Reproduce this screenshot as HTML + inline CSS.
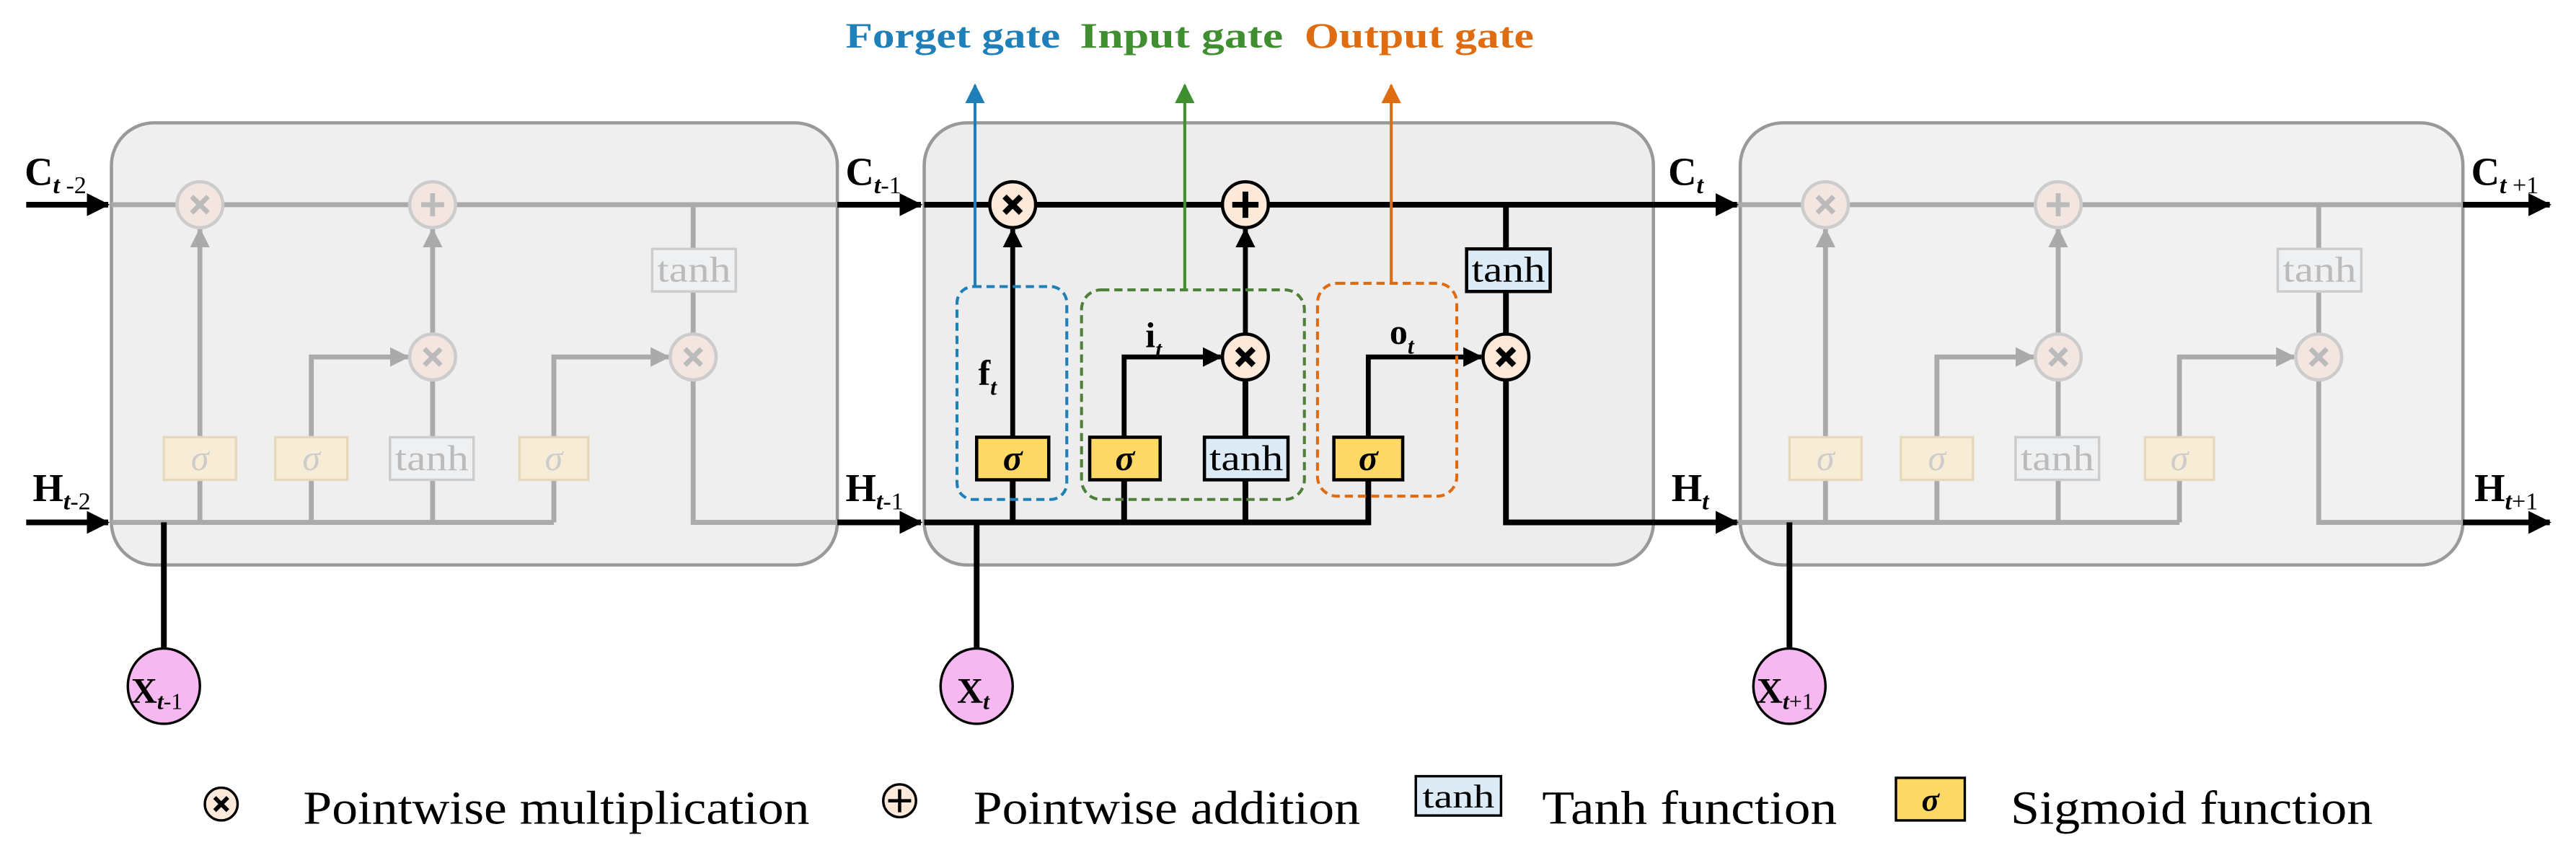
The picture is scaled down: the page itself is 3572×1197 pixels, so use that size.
<!DOCTYPE html>
<html><head><meta charset="utf-8"><style>
html,body{margin:0;padding:0;background:#fff;}
svg{display:block;}
text{font-family:"Liberation Serif","Times New Roman",serif;}
</style></head><body>
<svg width="3572" height="1197" viewBox="0 0 1572 527" preserveAspectRatio="none" xmlns="http://www.w3.org/2000/svg">
<defs>
<marker id="abig" markerWidth="14" markerHeight="14" refX="13" refY="7" orient="auto" markerUnits="userSpaceOnUse"><path d="M0,0 L14,7 L0,14z" fill="#000"/></marker>
<marker id="ag" markerWidth="12" markerHeight="12" refX="11" refY="6" orient="auto" markerUnits="userSpaceOnUse"><path d="M0,0 L12,6 L0,12z" fill="#aaa"/></marker>
<marker id="ak" markerWidth="12" markerHeight="12" refX="11" refY="6" orient="auto" markerUnits="userSpaceOnUse"><path d="M0,0 L12,6 L0,12z" fill="#000"/></marker>
<marker id="abl" markerWidth="12" markerHeight="12" refX="11" refY="6" orient="auto" markerUnits="userSpaceOnUse"><path d="M0,0 L12,6 L0,12z" fill="#1f7fb8"/></marker>
<marker id="agr" markerWidth="12" markerHeight="12" refX="11" refY="6" orient="auto" markerUnits="userSpaceOnUse"><path d="M0,0 L12,6 L0,12z" fill="#3f8f30"/></marker>
<marker id="aor" markerWidth="12" markerHeight="12" refX="11" refY="6" orient="auto" markerUnits="userSpaceOnUse"><path d="M0,0 L12,6 L0,12z" fill="#e06c12"/></marker>
<g id="faded">
  <path d="M0,125 H443 M0,319 H270 M54,319 V293 M122,319 V293 M196,319 V293 M270,319 V293 M355,125 V152 M355,178 V204 M355,232 V319 H443" fill="none" stroke="#aaa" stroke-width="3"/>
  <path d="M54,267 V140" stroke="#aaa" stroke-width="3" marker-end="url(#ag)"/>
  <path d="M196,267 V232 M196,204 V140" stroke="#aaa" stroke-width="3" marker-end="url(#ag)"/>
  <path d="M122,267 V218 H181" fill="none" stroke="#aaa" stroke-width="3" marker-end="url(#ag)"/>
  <path d="M270,267 V218 H340" fill="none" stroke="#aaa" stroke-width="3" marker-end="url(#ag)"/>
  <g fill="#f3e6e0" stroke="#ccc" stroke-width="2">
    <circle cx="54" cy="125" r="14"/><circle cx="196" cy="125" r="14"/><circle cx="196" cy="218" r="14"/><circle cx="355" cy="218" r="14"/>
  </g>
  <g stroke="#bbb" stroke-width="3">
    <path d="M49,120 l10,10 M59,120 l-10,10 M191,213 l10,10 M201,213 l-10,10 M350,213 l10,10 M360,213 l-10,10 M196,118 v14 M189,125 h14"/>
  </g>
  <rect x="330" y="152" width="51" height="26" fill="#eef0f2" stroke="#ccc" stroke-width="1.5"/>
  <text x="333" y="172" font-size="22" fill="#bbb" textLength="45" lengthAdjust="spacingAndGlyphs">tanh</text>
  <g fill="#f7ecd6" stroke="#e6d8bb" stroke-width="1.5">
    <rect x="32" y="267" width="44" height="26"/><rect x="100" y="267" width="44" height="26"/><rect x="249" y="267" width="42" height="26"/>
  </g>
  <rect x="170" y="267" width="51" height="26" fill="#eef0f2" stroke="#ccc" stroke-width="1.5"/>
  <g font-size="22" font-style="italic" fill="#ccc" text-anchor="middle">
    <text x="54" y="287">σ</text><text x="122" y="287">σ</text><text x="270" y="287">σ</text>
  </g>
  <text x="173" y="287" font-size="22" fill="#bbb" textLength="45" lengthAdjust="spacingAndGlyphs">tanh</text>
</g>
</defs>

<rect x="68" y="75" width="443" height="270" rx="26" fill="#efefef" stroke="#999" stroke-width="2"/>
<rect x="564" y="75" width="445" height="270" rx="26" fill="#ededed" stroke="#999" stroke-width="2"/>
<rect x="1062" y="75" width="441" height="270" rx="26" fill="#f1f1f1" stroke="#999" stroke-width="2"/>

<use href="#faded" x="68" y="0"/>
<use href="#faded" x="1060" y="0"/>

<g stroke="#000" stroke-width="3.5" fill="none">
  <path d="M16,125 H66" marker-end="url(#abig)"/>
  <path d="M16,319 H66" marker-end="url(#abig)"/>
  <path d="M511,125 H562" marker-end="url(#abig)"/>
  <path d="M511,319 H562" marker-end="url(#abig)"/>
  <path d="M1503,125 H1556" marker-end="url(#abig)"/>
  <path d="M1503,319 H1556" marker-end="url(#abig)"/>
  <path d="M1009,125 H1060" marker-end="url(#abig)"/>
  <path d="M1009,319 H1060" marker-end="url(#abig)"/>
  <path d="M100,319 V397 M596,319 V397 M1092,319 V397"/>
</g>

<g stroke="#000" stroke-width="3.5" fill="none">
  <path d="M564,125 H1009"/>
  <path d="M564,319 H835 V293"/>
  <path d="M919,125 V152 M919,178 V205 M919,232 V319 H1009"/>
  <path d="M618,319 V293 M686,319 V293 M760,319 V293"/>
  <path d="M760,267 V232"/>
</g>
<g stroke="#000" stroke-width="3" fill="none">
  <path d="M618,267 V140" marker-end="url(#ak)"/>
  <path d="M760,205 V140" marker-end="url(#ak)"/>
  <path d="M686,267 V218 H745" marker-end="url(#ak)"/>
  <path d="M835,267 V218 H904" marker-end="url(#ak)"/>
</g>
<rect x="584" y="175" width="67" height="130" rx="10" fill="none" stroke="#1f7fb8" stroke-width="1.8" stroke-dasharray="5,3"/>
<rect x="660" y="177" width="136" height="128" rx="12" fill="none" stroke="#4f7f3a" stroke-width="1.8" stroke-dasharray="5,3"/>
<rect x="804" y="173" width="85" height="130" rx="12" fill="none" stroke="#e06c12" stroke-width="1.8" stroke-dasharray="5,3"/>
<path d="M595,175 V52" stroke="#1f7fb8" stroke-width="1.8" marker-end="url(#abl)"/>
<path d="M723,177 V52" stroke="#3f8f30" stroke-width="1.8" marker-end="url(#agr)"/>
<path d="M849,173 V52" stroke="#e06c12" stroke-width="1.8" marker-end="url(#aor)"/>

<g fill="#fde9d9" stroke="#000" stroke-width="2">
  <circle cx="618" cy="125" r="14"/><circle cx="760" cy="125" r="14"/><circle cx="760" cy="218" r="14"/><circle cx="919" cy="218" r="14"/>
</g>
<g stroke="#000" stroke-width="3.5">
  <path d="M613,120 l10,10 M623,120 l-10,10 M755,213 l10,10 M765,213 l-10,10 M914,213 l10,10 M924,213 l-10,10 M760,117 v16 M752,125 h16"/>
</g>
<g fill="#ffd966" stroke="#000" stroke-width="2">
  <rect x="596" y="267" width="44" height="26"/><rect x="665" y="267" width="43" height="26"/><rect x="814" y="267" width="42" height="26"/>
</g>
<rect x="735" y="267" width="51" height="26" fill="#ddebf7" stroke="#000" stroke-width="2"/>
<rect x="895" y="152" width="51" height="26" fill="#ddebf7" stroke="#000" stroke-width="2"/>
<g font-size="22" font-style="italic" font-weight="bold" text-anchor="middle" fill="#000">
  <text x="618" y="287">σ</text><text x="686.5" y="287">σ</text><text x="835" y="287">σ</text>
</g>
<text x="738" y="287" font-size="22" textLength="45" lengthAdjust="spacingAndGlyphs">tanh</text>
<text x="898" y="172" font-size="22" textLength="45" lengthAdjust="spacingAndGlyphs">tanh</text>

<g font-size="22" font-weight="bold">
  <text x="597" y="235">f<tspan font-size="14" font-style="italic" dy="6">t</tspan></text>
  <text x="699" y="212">i<tspan font-size="14" font-style="italic" dy="6">t</tspan></text>
  <text x="848" y="210">o<tspan font-size="14" font-style="italic" dy="6">t</tspan></text>
</g>
<g font-size="22" font-weight="bold">
  <text x="516" y="29" fill="#1f7fb8" textLength="131" lengthAdjust="spacingAndGlyphs">Forget gate</text>
  <text x="659" y="29" fill="#3f8f30" textLength="124" lengthAdjust="spacingAndGlyphs">Input gate</text>
  <text x="796" y="29" fill="#e06c12" textLength="140" lengthAdjust="spacingAndGlyphs">Output gate</text>
</g>

<g font-size="24" font-weight="bold">
  <text x="15" y="113">C<tspan font-size="15" font-style="italic" dy="5">t</tspan><tspan font-size="15" font-weight="normal"> -2</tspan></text>
  <text x="516" y="113">C<tspan font-size="15" font-style="italic" dy="5">t</tspan><tspan font-size="15" font-weight="normal">-1</tspan></text>
  <text x="1018" y="113">C<tspan font-size="15" font-style="italic" dy="5">t</tspan></text>
  <text x="1508" y="113">C<tspan font-size="15" font-style="italic" dy="5">t</tspan><tspan font-size="15" font-weight="normal"> +1</tspan></text>
  <text x="20" y="306">H<tspan font-size="15" font-style="italic" dy="5">t</tspan><tspan font-size="15" font-weight="normal">-2</tspan></text>
  <text x="516" y="306">H<tspan font-size="15" font-style="italic" dy="5">t</tspan><tspan font-size="15" font-weight="normal">-1</tspan></text>
  <text x="1020" y="306">H<tspan font-size="15" font-style="italic" dy="5">t</tspan></text>
  <text x="1510" y="306">H<tspan font-size="15" font-style="italic" dy="5">t</tspan><tspan font-size="15" font-weight="normal">+1</tspan></text>
</g>

<g fill="#f5b8f0" stroke="#000" stroke-width="1.5">
  <ellipse cx="100" cy="419" rx="22" ry="23"/><ellipse cx="596" cy="419" rx="22" ry="23"/><ellipse cx="1092" cy="419" rx="22" ry="23"/>
</g>
<g font-size="22" font-weight="bold">
  <text x="80" y="429">X<tspan font-size="14" font-style="italic" dy="4">t</tspan><tspan font-size="14" font-weight="normal">-1</tspan></text>
  <text x="584" y="429">X<tspan font-size="14" font-style="italic" dy="4">t</tspan></text>
  <text x="1072" y="429">X<tspan font-size="14" font-style="italic" dy="4">t</tspan><tspan font-size="14" font-weight="normal">+1</tspan></text>
</g>

<circle cx="135" cy="491" r="10" fill="#fde9d9" stroke="#000" stroke-width="1.5"/>
<path d="M131,487 l8,8 M139,487 l-8,8" stroke="#000" stroke-width="2.5"/>
<text x="185" y="503" font-size="29" textLength="309" lengthAdjust="spacingAndGlyphs">Pointwise multiplication</text>
<circle cx="549" cy="489" r="10" fill="#fde9d9" stroke="#000" stroke-width="1.5"/>
<path d="M549,482 v14 M542,489 h14" stroke="#000" stroke-width="2"/>
<text x="594" y="503" font-size="29" textLength="236" lengthAdjust="spacingAndGlyphs">Pointwise addition</text>
<rect x="864" y="474" width="52" height="24" fill="#ddebf7" stroke="#000" stroke-width="1.5"/>
<text x="868" y="493" font-size="20" textLength="44" lengthAdjust="spacingAndGlyphs">tanh</text>
<text x="941" y="503" font-size="29" textLength="180" lengthAdjust="spacingAndGlyphs">Tanh function</text>
<rect x="1157" y="475" width="42" height="26" fill="#ffd966" stroke="#000" stroke-width="1.5"/>
<text x="1178" y="495" font-size="20" font-style="italic" font-weight="bold" text-anchor="middle">σ</text>
<text x="1227" y="503" font-size="29" textLength="221" lengthAdjust="spacingAndGlyphs">Sigmoid function</text>
</svg>
</body></html>
